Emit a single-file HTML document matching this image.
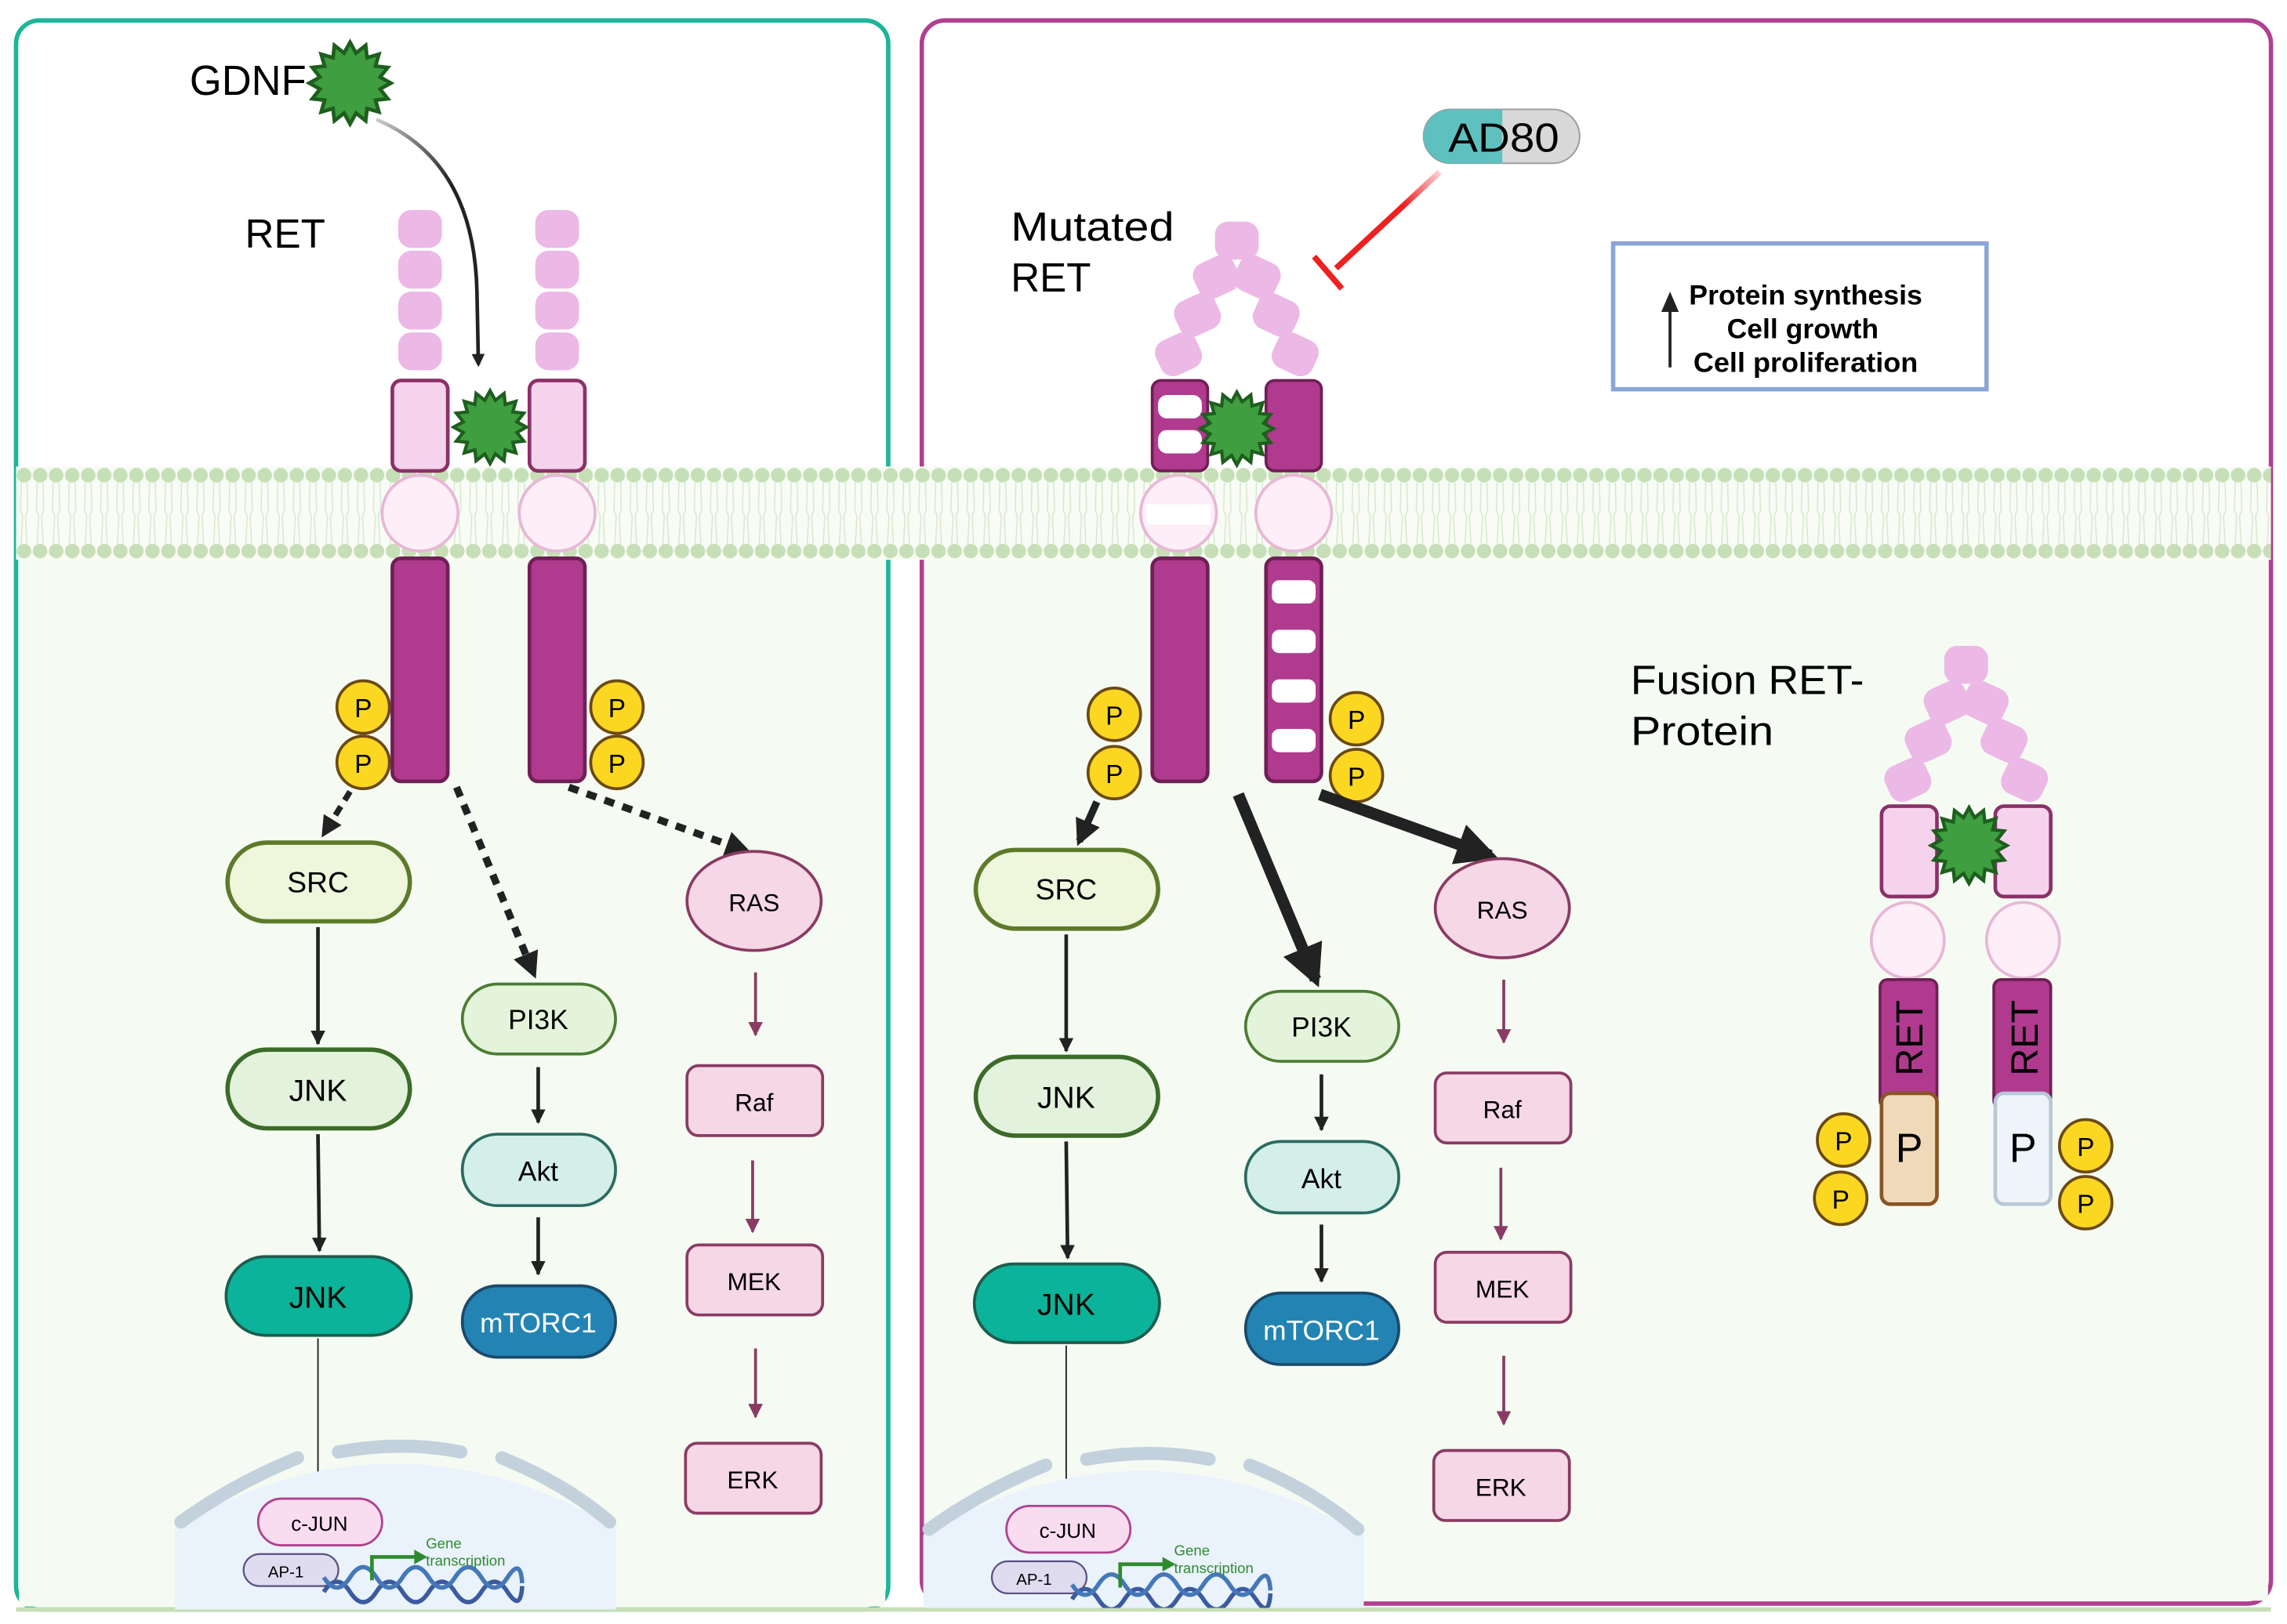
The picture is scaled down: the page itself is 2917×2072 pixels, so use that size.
<!DOCTYPE html>
<html><head><meta charset="utf-8"><style>
html,body{margin:0;padding:0;background:#fff;}
svg{display:block;}
text{font-family:"Liberation Sans",sans-serif;}
</style></head><body>
<svg width="2917" height="2072" viewBox="0 0 1568 1114" preserveAspectRatio="none" xmlns="http://www.w3.org/2000/svg">
<defs>
<polygon id="star" points="1,0 .736,.146 .924,.383 .623,.417 .707,.707 .417,.623 .383,.924 .146,.736 0,1 -.146,.736 -.383,.924 -.417,.623 -.707,.707 -.623,.417 -.924,.383 -.736,.146 -1,0 -.736,-.146 -.924,-.383 -.623,-.417 -.707,-.707 -.417,-.623 -.383,-.924 -.146,-.736 0,-1 .146,-.736 .383,-.924 .417,-.623 .707,-.707 .623,-.417 .924,-.383 .736,-.146" fill="#3f9e3f" stroke="#1e5e1e" stroke-width=".09"/>
<pattern id="mem" x="11" y="320" width="11" height="64" patternUnits="userSpaceOnUse">
<path d="M3.5 11 L3 30 L4.5 34 L3.5 53 M7.5 11 L8 30 L6.5 34 L7.5 53" stroke="#d6e8cc" stroke-width="0.8" fill="none"/>
<circle cx="5.5" cy="6" r="5" fill="#c6dfb6"/>
<circle cx="5.5" cy="58" r="5" fill="#c6dfb6"/>
</pattern>
<clipPath id="nclip"><rect x="0" y="0" width="1568" height="1103"/></clipPath>
<marker id="ah" viewBox="0 0 10 10" refX="9" refY="5" markerWidth="4" markerHeight="4" orient="auto"><path d="M0 0L10 5L0 10z" fill="#222"/></marker>
<marker id="ahm" viewBox="0 0 10 10" refX="9" refY="5" markerWidth="5" markerHeight="5" orient="auto"><path d="M0 0L10 5L0 10z" fill="#8a3b63"/></marker>
<marker id="ahb" viewBox="0 0 10 10" refX="8" refY="5" markerWidth="3.6" markerHeight="3.6" orient="auto"><path d="M0 0L10 5L0 10z" fill="#222"/></marker>
<linearGradient id="gd" x1="0" y1="0" x2="1" y2="1"><stop offset="0" stop-color="#ccc"/><stop offset=".5" stop-color="#222"/></linearGradient>
<linearGradient id="rd" x1="1" y1="0" x2="0" y2="1"><stop offset="0" stop-color="#ffd0d0"/><stop offset=".35" stop-color="#ee2020"/></linearGradient>
<g id="seg"><rect x="-15" y="-13" width="30" height="26" rx="9" fill="#ecb8e6"/></g>
<g id="pp"><circle r="18" fill="#fcd722" stroke="#6b4a12" stroke-width="2"/><text y="7" text-anchor="middle" font-size="18">P</text></g>
<g id="nuc">
<path d="M120 1048 Q270 960 422 1048 L422 1104 L120 1104 Z" fill="#eaf2fb"/>
<path d="M124 1044 Q160 1018 204 1000" stroke="#c3d1dd" stroke-width="9" fill="none" stroke-linecap="round"/>
<path d="M232 996 Q276 988 316 996" stroke="#c3d1dd" stroke-width="9" fill="none" stroke-linecap="round"/>
<path d="M344 1000 Q388 1018 418 1044" stroke="#c3d1dd" stroke-width="9" fill="none" stroke-linecap="round"/>
<rect x="177" y="1028" width="85" height="32" rx="16" fill="#f9dcef" stroke="#b0408f" stroke-width="1.5"/>
<text x="219" y="1050" text-anchor="middle" font-size="14">c-JUN</text>
<rect x="167" y="1066" width="65" height="22" rx="11" fill="#e0dcf0" stroke="#5a4f80" stroke-width="1.2"/>
<text x="196" y="1082" text-anchor="middle" font-size="11">AP-1</text>
<path d="M222 1092 q9 -14 18 0 t18 0 t18 0 t18 0 t18 0 t18 0 t18 0 t10 -4" stroke="#3b5ba0" stroke-width="3" fill="none"/>
<path d="M222 1082 q9 14 18 0 t18 0 t18 0 t18 0 t18 0 t18 0 t18 0 t10 4" stroke="#4478b8" stroke-width="3" fill="none"/>
<path d="M255 1084 L255 1068 L285 1068" stroke="#2e8b2e" stroke-width="2.5" fill="none"/>
<path d="M284 1063 L293 1068 L284 1073z" fill="#2e8b2e"/>
<text x="292" y="1062" font-size="10" fill="#2e8b2e">Gene</text>
<text x="292" y="1074" font-size="10" fill="#2e8b2e">transcription</text>
</g>
<g id="colA">
<rect x="156" y="578" width="125" height="54" rx="27" fill="#eef6dc" stroke="#5c7a2a" stroke-width="3"/>
<text x="218" y="612" text-anchor="middle" font-size="20">SRC</text>
<rect x="156" y="720" width="125" height="54" rx="27" fill="#e3f2dc" stroke="#3d6b2a" stroke-width="3"/>
<text x="218" y="755" text-anchor="middle" font-size="21">JNK</text>
<rect x="155" y="862" width="127" height="54" rx="27" fill="#0bb39a" stroke="#1d5c4e" stroke-width="2"/>
<text x="218" y="897" text-anchor="middle" font-size="21">JNK</text>
<line x1="218" y1="636" x2="218" y2="716" stroke="#222" stroke-width="2.5" marker-end="url(#ah)"/>
<line x1="218" y1="778" x2="219" y2="858" stroke="#222" stroke-width="2.5" marker-end="url(#ah)"/>
<line x1="218" y1="918" x2="218" y2="1012" stroke="#222" stroke-width="1"/>
<path d="M215 1011 L218 1020 L221 1011z" fill="#222"/>
<ellipse cx="517" cy="618" rx="46" ry="34" fill="#f5d7e6" stroke="#8a3b63" stroke-width="2"/>
<text x="517" y="625" text-anchor="middle" font-size="17">RAS</text>
<rect x="471" y="731" width="93" height="48" rx="8" fill="#f5d7e6" stroke="#8a3b63" stroke-width="2"/>
<text x="517" y="762" text-anchor="middle" font-size="17">Raf</text>
<rect x="471" y="854" width="93" height="48" rx="8" fill="#f5d7e6" stroke="#8a3b63" stroke-width="2"/>
<text x="517" y="885" text-anchor="middle" font-size="17">MEK</text>
<rect x="470" y="990" width="93" height="48" rx="8" fill="#f5d7e6" stroke="#8a3b63" stroke-width="2"/>
<text x="516" y="1021" text-anchor="middle" font-size="17">ERK</text>
<line x1="518" y1="667" x2="518" y2="710" stroke="#8a3b63" stroke-width="2" marker-end="url(#ahm)"/>
<line x1="516" y1="796" x2="516" y2="845" stroke="#8a3b63" stroke-width="2" marker-end="url(#ahm)"/>
<line x1="518" y1="925" x2="518" y2="972" stroke="#8a3b63" stroke-width="2" marker-end="url(#ahm)"/>
</g>
<g id="colB">
<rect x="317" y="675" width="105" height="48" rx="24" fill="#e3f4db" stroke="#4c7c34" stroke-width="2"/>
<text x="369" y="706" text-anchor="middle" font-size="19">PI3K</text>
<rect x="317" y="778" width="105" height="49" rx="24" fill="#d4eeea" stroke="#2b6b60" stroke-width="2"/>
<text x="369" y="810" text-anchor="middle" font-size="19">Akt</text>
<rect x="317" y="882" width="105" height="49" rx="24" fill="#2384b4" stroke="#1b4a6a" stroke-width="2"/>
<text x="369" y="914" text-anchor="middle" font-size="19" fill="#fff">mTORC1</text>
<line x1="369" y1="732" x2="369" y2="770" stroke="#222" stroke-width="2.5" marker-end="url(#ah)"/>
<line x1="369" y1="835" x2="369" y2="874" stroke="#222" stroke-width="2.5" marker-end="url(#ah)"/>
</g>
</defs>

<rect x="11" y="14" width="598" height="1090" rx="16" fill="#fff" stroke="#1bb59a" stroke-width="3"/>
<rect x="632" y="14" width="925" height="1086" rx="16" fill="#fff" stroke="#b0408f" stroke-width="3"/>
<rect x="13" y="383" width="594" height="719" fill="#f5fbf2"/>
<rect x="634" y="383" width="921" height="715" fill="#f5fbf2"/>
<rect x="11" y="320" width="1546" height="64" fill="#f8fcf5"/>
<rect x="11" y="320" width="1546" height="64" fill="url(#mem)"/>
<line x1="11" y1="1104" x2="1557" y2="1104" stroke="#c6dfb6" stroke-width="3"/>

<!-- LEFT RET -->
<text x="130" y="65" font-size="29" textLength="80" lengthAdjust="spacingAndGlyphs">GDNF</text>
<use href="#star" transform="translate(240,57) scale(28)"/>
<path d="M258 82 Q325 110 327 200 L328 250" stroke="url(#gd)" stroke-width="2.5" fill="none" marker-end="url(#ahb)"/>
<text x="168" y="170" font-size="28" textLength="55" lengthAdjust="spacingAndGlyphs">RET</text>
<use href="#seg" transform="translate(288,157)"/><use href="#seg" transform="translate(288,185)"/><use href="#seg" transform="translate(288,213)"/><use href="#seg" transform="translate(288,241)"/>
<use href="#seg" transform="translate(382,157)"/><use href="#seg" transform="translate(382,185)"/><use href="#seg" transform="translate(382,213)"/><use href="#seg" transform="translate(382,241)"/>
<rect x="269" y="261" width="38" height="62" rx="6" fill="#f6d3ec" stroke="#8c3068" stroke-width="2.5"/>
<rect x="363" y="261" width="38" height="62" rx="6" fill="#f6d3ec" stroke="#8c3068" stroke-width="2.5"/>
<use href="#star" transform="translate(336,293) scale(25)"/>
<circle cx="288" cy="352" r="26" fill="#fdeef8" stroke="#e8b7d5" stroke-width="2"/>
<circle cx="382" cy="352" r="26" fill="#fdeef8" stroke="#e8b7d5" stroke-width="2"/>
<rect x="269" y="383" width="38" height="153" rx="6" fill="#b03a8e" stroke="#6f1f55" stroke-width="2.5"/>
<rect x="363" y="383" width="38" height="153" rx="6" fill="#b03a8e" stroke="#6f1f55" stroke-width="2.5"/>
<use href="#pp" transform="translate(249,485)"/><use href="#pp" transform="translate(249,523)"/>
<use href="#pp" transform="translate(423,485)"/><use href="#pp" transform="translate(423,523)"/>
<path d="M240 543 L222 572" stroke="#222" stroke-width="4" stroke-dasharray="7 5" fill="none" marker-end="url(#ahb)"/>
<path d="M313 540 L366 668" stroke="#222" stroke-width="5" stroke-dasharray="7 6" fill="none" marker-end="url(#ahb)"/>
<path d="M390 540 L512 584" stroke="#222" stroke-width="5" stroke-dasharray="7 6" fill="none" marker-end="url(#ahb)"/>
<use href="#colA"/><use href="#colB"/>
<use href="#nuc"/>

<!-- RIGHT -->
<text x="693" y="165" font-size="28" textLength="112" lengthAdjust="spacingAndGlyphs">Mutated</text>
<text x="693" y="200" font-size="28" textLength="55" lengthAdjust="spacingAndGlyphs">RET</text>
<use href="#seg" transform="translate(848,165)"/>
<use href="#seg" transform="translate(834,190) rotate(-25)"/><use href="#seg" transform="translate(821,216) rotate(-25)"/><use href="#seg" transform="translate(808,243) rotate(-25)"/>
<use href="#seg" transform="translate(862,190) rotate(25)"/><use href="#seg" transform="translate(875,216) rotate(25)"/><use href="#seg" transform="translate(888,243) rotate(25)"/>
<rect x="790" y="261" width="38" height="62" rx="6" fill="#b03a8e" stroke="#6f1f55" stroke-width="2"/>
<rect x="794" y="271" width="30" height="16" rx="6" fill="#fff"/><rect x="794" y="295" width="30" height="16" rx="6" fill="#fff"/>
<rect x="868" y="261" width="38" height="62" rx="6" fill="#b03a8e" stroke="#6f1f55" stroke-width="2"/>
<use href="#star" transform="translate(848,294) scale(25)"/>
<circle cx="808" cy="352" r="26" fill="#fdeef8" stroke="#e8b7d5" stroke-width="2"/>
<rect x="786" y="346" width="44" height="14" fill="#fff"/>
<circle cx="887" cy="352" r="26" fill="#fdeef8" stroke="#e8b7d5" stroke-width="2"/>
<rect x="790" y="383" width="38" height="153" rx="6" fill="#b03a8e" stroke="#6f1f55" stroke-width="2.5"/>
<rect x="868" y="383" width="38" height="153" rx="6" fill="#b03a8e" stroke="#6f1f55" stroke-width="2.5"/>
<rect x="872" y="398" width="30" height="16" rx="5" fill="#fff"/><rect x="872" y="432" width="30" height="16" rx="5" fill="#fff"/>
<rect x="872" y="466" width="30" height="16" rx="5" fill="#fff"/><rect x="872" y="500" width="30" height="16" rx="5" fill="#fff"/>
<use href="#pp" transform="translate(764,490)"/><use href="#pp" transform="translate(764,530)"/>
<use href="#pp" transform="translate(930,493)"/><use href="#pp" transform="translate(930,532)"/>

<rect x="976" y="75" width="107" height="37" rx="18.5" fill="#d8d8d8" stroke="#999" stroke-width="1"/>
<path d="M994.5 75 L1030 75 L1030 112 L994.5 112 A18.5 18.5 0 0 1 994.5 75z" fill="#5fc0c0"/>
<text x="1031" y="104" text-anchor="middle" font-size="28" textLength="76" lengthAdjust="spacingAndGlyphs">AD80</text>
<line x1="987" y1="118" x2="916" y2="184" stroke="url(#rd)" stroke-width="4"/>
<line x1="901" y1="176" x2="920" y2="198" stroke="#ee2020" stroke-width="4"/>

<rect x="1106" y="167" width="256" height="100" fill="#fff" stroke="#8aa5d8" stroke-width="3"/>
<text x="1238" y="209" text-anchor="middle" font-size="19" font-weight="bold" textLength="160" lengthAdjust="spacingAndGlyphs">Protein synthesis</text>
<text x="1236" y="232" text-anchor="middle" font-size="19" font-weight="bold" textLength="104" lengthAdjust="spacingAndGlyphs">Cell growth</text>
<text x="1238" y="255" text-anchor="middle" font-size="19" font-weight="bold" textLength="154" lengthAdjust="spacingAndGlyphs">Cell proliferation</text>
<line x1="1145" y1="252" x2="1145" y2="212" stroke="#222" stroke-width="2"/>
<path d="M1139 214 L1145 200 L1151 214z" fill="#222"/>

<line x1="752" y1="550" x2="740" y2="577" stroke="#222" stroke-width="5" marker-end="url(#ahb)"/>
<line x1="849" y1="545" x2="902" y2="672" stroke="#222" stroke-width="8" marker-end="url(#ahb)"/>
<line x1="905" y1="545" x2="1022" y2="587" stroke="#222" stroke-width="8" marker-end="url(#ahb)"/>
<g transform="translate(513,5)"><use href="#colA"/></g>
<g transform="translate(537,5)"><use href="#colB"/></g>
<g clip-path="url(#nclip)"><g transform="translate(513,5)"><use href="#nuc"/></g></g>

<text x="1118" y="476" font-size="28" textLength="160" lengthAdjust="spacingAndGlyphs">Fusion RET-</text>
<text x="1118" y="511" font-size="28" textLength="98" lengthAdjust="spacingAndGlyphs">Protein</text>
<use href="#seg" transform="translate(1348,456)"/>
<use href="#seg" transform="translate(1335,482) rotate(-25)"/><use href="#seg" transform="translate(1322,508) rotate(-25)"/><use href="#seg" transform="translate(1308,535) rotate(-25)"/>
<use href="#seg" transform="translate(1361,482) rotate(25)"/><use href="#seg" transform="translate(1374,508) rotate(25)"/><use href="#seg" transform="translate(1388,535) rotate(25)"/>
<rect x="1290" y="553" width="38" height="62" rx="6" fill="#f6d3ec" stroke="#8c3068" stroke-width="2.5"/>
<rect x="1368" y="553" width="38" height="62" rx="6" fill="#f6d3ec" stroke="#8c3068" stroke-width="2.5"/>
<use href="#star" transform="translate(1350,580) scale(26)"/>
<ellipse cx="1308" cy="645" rx="25" ry="26" fill="#fdeef8" stroke="#e8b7d5" stroke-width="2"/>
<ellipse cx="1387" cy="645" rx="25" ry="26" fill="#fdeef8" stroke="#e8b7d5" stroke-width="2"/>
<rect x="1289" y="672" width="39" height="88" rx="5" fill="#b03a8e" stroke="#6f1f55" stroke-width="2"/>
<rect x="1367" y="672" width="39" height="88" rx="5" fill="#b03a8e" stroke="#6f1f55" stroke-width="2"/>
<rect x="1290" y="750" width="38" height="76" rx="6" fill="#f0d9b8" stroke="#8a5424" stroke-width="2.5"/>
<rect x="1368" y="750" width="38" height="76" rx="6" fill="#eef4fa" stroke="#b8c8d8" stroke-width="2.5"/>
<text transform="translate(1318,712) rotate(-90)" text-anchor="middle" font-size="26">RET</text>
<text transform="translate(1397,712) rotate(-90)" text-anchor="middle" font-size="26">RET</text>
<text x="1309" y="797" text-anchor="middle" font-size="28">P</text>
<text x="1387" y="797" text-anchor="middle" font-size="28">P</text>
<use href="#pp" transform="translate(1264,782)"/><use href="#pp" transform="translate(1262,822)"/>
<use href="#pp" transform="translate(1430,786)"/><use href="#pp" transform="translate(1430,825)"/>
</svg>
</body></html>
